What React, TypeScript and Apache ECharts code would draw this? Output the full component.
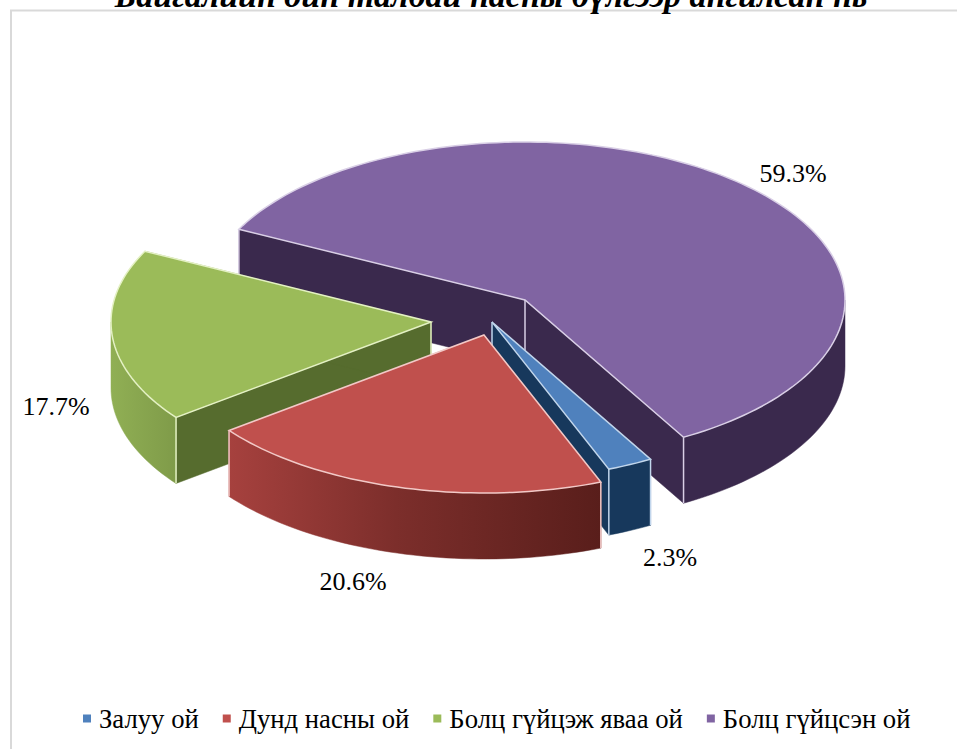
import React, { useEffect, useRef } from "react";
import * as echarts from "echarts";

const titleText = "Байгалийн ойн талбай насны бүлгээр ангилсан нь";
const categories = ["Залуу ой", "Дунд насны ой", "Болц гүйцэж яваа ой", "Болц гүйцсэн ой"];
const shares = [2.3, 20.6, 17.7, 59.3];

const FONT = '"Liberation Serif", "Times New Roman", serif';
const FIRST_ANGLE = 150.3;
const RX = 320;
const RY = 158;
const DEPTH = 66;

const topColors = ["#4F81BD", "#C0504D", "#9BBB59", "#8064A2"];
const edgeColors = ["#C2D6EC", "#F2C9C7", "#E4F1C4", "#D9CFE6"];
const wallColors = ["#17385C", "#7E2F2C", "#566C2E", "#3A294D"];
const apexes = [
  [492, 322],
  [484, 335],
  [431, 322],
  [525, 300],
];
const labelPositions = [
  [670, 557],
  [353, 581],
  [56, 406],
  [793, 173],
];
const paintOrder = [3, 4, 2, 1];

const outerFill = (i: number) => {
  if (i === 1)
    return new echarts.graphic.LinearGradient(0, 0, 1, 0, [
      { offset: 0, color: "#A6413E" },
      { offset: 0.45, color: "#7C2E2B" },
      { offset: 1, color: "#591E1B" },
    ]);
  if (i === 2)
    return new echarts.graphic.LinearGradient(0, 0, 1, 0, [
      { offset: 0, color: "#90AF54" },
      { offset: 1, color: "#7F9B49" },
    ]);
  return wallColors[i];
};

const arcPoints = (cx: number, cy: number, from: number, to: number, dy = 0) => {
  const pts: number[][] = [];
  const steps = Math.max(2, Math.ceil((to - from) / 1.5));
  for (let s = 0; s <= steps; s++) {
    const a = ((from + ((to - from) * s) / steps) * Math.PI) / 180;
    pts.push([cx + RX * Math.sin(a), cy - RY * Math.cos(a) + dy]);
  }
  return pts;
};

const makeRenderItem = (i: number) => (_params: any, api: any) => {
  const total = shares.reduce((a, b) => a + b, 0);
  const before = shares.slice(0, i).reduce((a, b) => a + b, 0);
  const start = FIRST_ANGLE + (before / total) * 360;
  const end = start + (api.value(0) / total) * 360;
  const [cx, cy] = apexes[i];
  const children: any[] = [];
  const wall = (pts: number[][], fill: any) =>
    children.push({
      type: "polygon",
      shape: { points: pts },
      style: { fill, stroke: fill, lineWidth: 0.5 },
    });
  const sp = arcPoints(cx, cy, start, start, 0)[0];
  const ep = arcPoints(cx, cy, end, end, 0)[0];
  const prism = (p: number[]) => [
    [cx, cy],
    p,
    [p[0], p[1] + DEPTH],
    [cx, cy + DEPTH],
  ];
  wall(prism(sp), wallColors[i]);
  wall(prism(ep), wallColors[i]);
  for (const k of [0, 360]) {
    const from = Math.max(start, 90 + k);
    const to = Math.min(end, 270 + k);
    if (to > from) {
      const upper = arcPoints(cx, cy, from, to);
      const lower = arcPoints(cx, cy, from, to, DEPTH).reverse();
      wall([...upper, ...lower], outerFill(i));
    }
  }
  const vertical = (p: number[]) =>
    children.push({
      type: "line",
      shape: { x1: p[0], y1: p[1], x2: p[0], y2: p[1] + DEPTH },
      style: { stroke: edgeColors[i], lineWidth: 1.5 },
    });
  vertical(sp);
  vertical(ep);
  vertical([cx, cy]);
  children.push({
    type: "polygon",
    shape: { points: [[cx, cy], ...arcPoints(cx, cy, start, end)] },
    style: { fill: topColors[i], stroke: edgeColors[i], lineWidth: 1.5, lineJoin: "miter" },
  });
  children.push({
    type: "text",
    style: {
      x: labelPositions[i][0],
      y: labelPositions[i][1],
      text: `${api.value(0).toFixed(1)}%`,
      fill: "#000000",
      font: `26px ${FONT}`,
      align: "center",
      verticalAlign: "middle",
    },
  });
  return { type: "group", children };
};

export default function App() {
  const ref = useRef<HTMLDivElement>(null);
  useEffect(() => {
    const chart = echarts.init(ref.current!, null, { renderer: "svg" });
    chart.setOption({
      animation: false,
      backgroundColor: "#FFFFFF",
      color: topColors,
      title: {
        text: titleText,
        left: 491,
        top: -22,
        textAlign: "center",
        padding: 0,
        textStyle: {
          fontFamily: FONT,
          fontSize: 34,
          fontWeight: "bold",
          fontStyle: "italic",
          color: "#000000",
        },
      },
      graphic: [
        {
          type: "polyline",
          silent: true,
          z: 0,
          shape: {
            points: [
              [11, 749],
              [11, 10.5],
              [957, 10.5],
            ],
          },
          style: { stroke: "#D9D9D9", lineWidth: 2, fill: "none" },
        },
      ],
      legend: {
        left: 83,
        top: 705,
        padding: 0,
        itemWidth: 8,
        itemHeight: 8,
        itemGap: 24,
        icon: "rect",
        data: categories,
        textStyle: {
          fontFamily: FONT,
          fontSize: 26.7,
          color: "#000000",
          padding: [0, 0, 0, 3],
        },
      },
      series: categories.map((name, i) => ({
        type: "custom",
        name,
        z: paintOrder[i],
        coordinateSystem: "none",
        silent: true,
        data: [[shares[i]]],
        renderItem: makeRenderItem(i),
      })),
    });
    return () => chart.dispose();
  }, []);
  return (
    <div
      ref={ref}
      style={{ position: "absolute", left: 0, top: 0, width: 957, height: 749 }}
    />
  );
}
